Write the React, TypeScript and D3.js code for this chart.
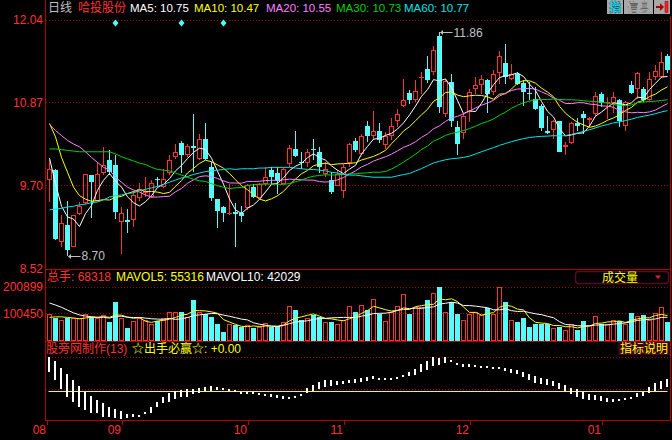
import * as d3 from 'd3'

// 日K: 104 sessions
const openPx = [
  9.77, 9.91, 8.89, 9.14, 8.83, 9.29, 9.44, 9.84, 9.48, 9.87,
  10.06, 9.99, 9.18, 9.21, 9.21, 9.52, 9.59, 9.53, 9.79, 9.67,
  9.87, 10.09, 10.29, 10.12, 10.25, 10.07, 10.35, 9.95, 9.5, 9.39,
  9.29, 9.32, 9.31, 9.38, 9.67, 9.52, 9.72, 9.91, 9.87, 9.72,
  10.0, 10.21, 10.02, 10.01, 10.21, 10.16, 9.86, 9.77, 9.69, 9.62,
  10.01, 10.32, 10.14, 10.53, 10.4, 10.47, 10.27, 10.39, 10.61, 10.82,
  11.0, 10.9, 11.22, 11.34, 11.3, 11.8, 10.7, 11.16, 10.52, 10.43,
  10.73, 11.06, 11.12, 11.18, 11.01, 11.28, 11.42, 11.2, 11.27, 11.14,
  11.0, 10.91, 10.82, 10.47, 10.48, 10.6, 10.24, 10.29, 10.57, 10.71,
  10.62, 10.7, 10.98, 10.86, 10.86, 10.9, 10.53, 11.12, 11.06, 11.06,
  10.9, 11.23, 11.23, 11.53,
]
const highPx = [
  10.05, 9.93, 9.28, 9.48, 9.27, 9.46, 9.86, 9.84, 10.02, 10.24,
  10.19, 10.12, 9.39, 9.36, 9.6, 9.73, 9.81, 9.77, 9.82, 9.93,
  10.12, 10.28, 10.32, 10.28, 10.7, 10.42, 10.58, 10.02, 9.5, 9.41,
  9.71, 9.45, 9.4, 9.72, 9.72, 9.73, 9.95, 9.95, 9.95, 9.95,
  10.27, 10.47, 10.17, 10.21, 10.35, 10.24, 10.02, 9.88, 9.91, 10.0,
  10.29, 10.37, 10.42, 10.6, 10.75, 10.57, 10.45, 10.65, 10.78, 11.2,
  11.04, 11.18, 11.3, 11.52, 11.66, 11.86, 11.2, 11.27, 10.61, 10.71,
  11.06, 11.23, 11.25, 11.2, 11.32, 11.59, 11.69, 11.41, 11.3, 11.18,
  11.15, 11.09, 10.85, 10.68, 10.62, 10.61, 10.31, 10.59, 10.65, 10.75,
  10.66, 11.01, 11.02, 10.95, 11.01, 10.92, 10.89, 11.17, 11.3, 11.08,
  11.3, 11.39, 11.58, 11.55,
]
const lowPx = [
  9.46, 8.92, 8.82, 8.7, 8.82, 9.27, 9.43, 9.24, 9.46, 9.84,
  9.84, 9.22, 8.72, 9.02, 9.1, 9.48, 9.53, 9.51, 9.68, 9.66,
  9.84, 10.07, 9.87, 10.1, 9.88, 10.06, 10.05, 9.48, 9.09, 9.18,
  9.27, 8.82, 9.18, 9.35, 9.51, 9.51, 9.69, 9.72, 9.58, 9.71,
  9.95, 10.09, 9.93, 9.95, 10.05, 9.87, 9.81, 9.58, 9.68, 9.52,
  9.95, 10.17, 10.13, 10.31, 10.34, 10.29, 10.21, 10.33, 10.52, 10.81,
  10.84, 10.87, 10.98, 11.14, 11.26, 10.72, 10.66, 10.52, 10.13, 10.35,
  10.59, 10.99, 10.98, 10.72, 10.97, 11.13, 11.13, 11.19, 11.11, 10.82,
  10.9, 10.76, 10.47, 10.42, 10.35, 10.17, 10.13, 10.28, 10.47, 10.42,
  10.52, 10.68, 10.8, 10.64, 10.72, 10.52, 10.47, 10.98, 10.92, 10.87,
  10.89, 11.18, 11.22, 11.28,
]
const closePx = [
  9.93, 8.94, 9.17, 8.78, 9.27, 9.41, 9.85, 9.74, 9.86, 9.98,
  9.88, 9.32, 9.31, 9.18, 9.56, 9.65, 9.62, 9.73, 9.77, 9.78,
  10.05, 10.17, 10.12, 10.25, 10.22, 10.35, 10.07, 9.51, 9.33, 9.3,
  9.31, 9.29, 9.26, 9.7, 9.53, 9.71, 9.81, 9.81, 9.76, 9.92,
  10.23, 10.11, 10.01, 10.16, 10.2, 9.96, 9.93, 9.6, 9.86, 9.96,
  10.28, 10.19, 10.4, 10.4, 10.47, 10.34, 10.4, 10.54, 10.71, 10.9,
  10.9, 11.03, 11.23, 11.18, 11.61, 10.81, 11.17, 10.61, 10.28, 10.67,
  11.02, 11.11, 11.2, 10.99, 11.27, 11.53, 11.23, 11.27, 11.13, 11.01,
  10.99, 10.78, 10.5, 10.43, 10.61, 10.17, 10.26, 10.57, 10.54, 10.65,
  10.65, 10.96, 10.86, 10.88, 10.95, 10.61, 10.87, 11.0, 11.28, 10.9,
  11.2, 11.31, 11.44, 11.32,
]
const volume = [
  98000, 82000, 75000, 82000, 82000, 82000, 98000, 88000, 82000, 94000,
  69000, 144000, 82000, 45000, 73000, 82000, 75000, 61000, 73000, 82000,
  106000, 106000, 106000, 88000, 150000, 106000, 100000, 88000, 63000, 32000,
  61000, 57000, 51000, 57000, 45000, 51000, 65000, 51000, 53000, 69000,
  128000, 115000, 75000, 82000, 94000, 88000, 69000, 69000, 62000, 78000,
  128000, 106000, 131000, 115000, 156000, 98000, 73000, 106000, 128000, 172000,
  98000, 125000, 125000, 150000, 175000, 200899, 106000, 144000, 98000, 75000,
  100000, 106000, 94000, 122000, 98000, 198000, 144000, 75000, 69000, 82000,
  51000, 61000, 61000, 61000, 45000, 51000, 38000, 61000, 38000, 73000,
  57000, 90000, 63000, 63000, 75000, 73000, 61000, 103000, 90000, 94000,
  75000, 103000, 123000, 68318,
]

// MA values for sessions before the window has enough history
const ma5Head = [10.08, 9.72, 9.4, 9.25]
const ma10Head = [10.57, 10.38, 10.09, 9.88, 9.67, 9.55, 9.5, 9.47, 9.48]
const ma20Head = [10.56, 10.47, 10.4, 10.33, 10.28, 10.24, 10.17, 10.09, 10.02, 9.95, 9.91, 9.81, 9.74, 9.67, 9.63, 9.6, 9.56, 9.53, 9.53]
const ma30Head = [
  10.21, 10.21, 10.2, 10.19, 10.18, 10.17, 10.17, 10.17, 10.17, 10.17,
  10.17, 10.14, 10.1, 10.07, 10.04, 10.01, 9.99, 9.95, 9.92, 9.91,
  9.9, 9.87, 9.84, 9.81, 9.78, 9.76, 9.75, 9.72, 9.69,
]
const ma60Head = [
  9.35, 9.36, 9.37, 9.39, 9.4, 9.42, 9.43, 9.45, 9.46, 9.49,
  9.53, 9.55, 9.56, 9.58, 9.59, 9.62, 9.64, 9.66, 9.68, 9.71,
  9.74, 9.77, 9.8, 9.82, 9.85, 9.87, 9.89, 9.9, 9.91, 9.92,
  9.93, 9.92, 9.93, 9.93, 9.93, 9.94, 9.94, 9.95, 9.95, 9.95,
  9.95, 9.94, 9.93, 9.92, 9.92, 9.91, 9.9, 9.88, 9.87, 9.85,
  9.84, 9.84, 9.83, 9.82, 9.81, 9.81, 9.81, 9.81, 9.83,
]
const mavol5Head = [86000, 88000, 88000, 86000]
const mavol10Head = [139500, 132000, 123500, 113000, 103000, 95000, 91000, 88500, 86000]

// 出手必赢 sticks: upper / lower end of each bar
const stickTop = [
  1.0, 0.89, 0.67, 0.5, 0.33, 0.15, -0.02, -0.15, -0.27, -0.37,
  -0.46, -0.54, -0.59, -0.69, -0.69, -0.71, -0.63, -0.46, -0.32, -0.17,
  -0.07, 0.01, 0.03, 0.05, 0.05, 0.08, 0.11, 0.15, 0.11, 0.08,
  0.05, 0.03, -0.02, -0.02, -0.04, -0.07, -0.09, -0.09, -0.12, -0.15,
  -0.17, -0.15, -0.09, 0.08, 0.18, 0.28, 0.33, 0.33, 0.31, 0.31,
  0.33, 0.36, 0.38, 0.41, 0.45, 0.38, 0.38, 0.38, 0.41, 0.47,
  0.57, 0.65, 0.8, 0.9, 1.0, 0.97, 1.0, 0.92, 0.84, 0.8,
  0.8, 0.77, 0.74, 0.74, 0.72, 0.72, 0.67, 0.64, 0.62, 0.57,
  0.5, 0.45, 0.38, 0.35, 0.31, 0.25, 0.18, 0.08, 0.05, -0.02,
  -0.09, -0.12, -0.15, -0.2, -0.24, -0.24, -0.22, -0.17, -0.05, -0.02,
  0.11, 0.23, 0.31, 0.36,
]
const stickBottom = [
  0.57, 0.33, 0.05, -0.17, -0.32, -0.46, -0.56, -0.66, -0.66, -0.76,
  -0.78, -0.81, -0.84, -0.81, -0.78, -0.78, -0.68, -0.64, -0.48, -0.37,
  -0.34, -0.25, -0.17, -0.17, -0.1, -0.07, 0.01, 0.01, 0.03, 0.03,
  0.01, 0.0, -0.09, -0.09, -0.09, -0.12, -0.15, -0.17, -0.2, -0.23,
  -0.22, -0.19, -0.14, -0.07, 0.01, 0.05, 0.11, 0.15, 0.18, 0.21,
  0.23, 0.25, 0.28, 0.31, 0.35, 0.36, 0.36, 0.36, 0.38, 0.41,
  0.45, 0.47, 0.57, 0.62, 0.74, 0.77, 0.82, 0.87, 0.82, 0.72,
  0.72, 0.72, 0.72, 0.7, 0.67, 0.65, 0.6, 0.54, 0.5, 0.41,
  0.33, 0.25, 0.21, 0.18, 0.15, 0.05, 0.01, -0.09, -0.17, -0.25,
  -0.27, -0.27, -0.29, -0.32, -0.32, -0.29, -0.27, -0.22, -0.19, -0.15,
  -0.07, 0.01, 0.05, 0.11,
]

const priceTicks = [12.04, 10.87, 9.7, 8.52]
const volTicks = [200899, 100450]
const monthLabels = ['08', '09', '10', '11', '12', '01']
const monthStart = [-0.5, 12, 33, 49, 70, 92]
const signalDays = [11, 22, 29]
const maLegend = ['MA5: 10.75', 'MA10: 10.47', 'MA20: 10.55', 'MA30: 10.73', 'MA60: 10.77']
const maLegendX = [130, 194, 266, 336, 404]

const RED = '#ff3232'
const CYAN = '#54fcfc'
const GRID = '#a00000'
const AXIS = '#b40000'
const MA_COLORS = ['#ffffff', '#ffff00', '#ff80ff', '#00d200', '#00e6e6']
const FONT = "'Liberation Sans', Arial, 'Noto Sans CJK SC', sans-serif"

function rolling(vals: number[], n: number, head: number[]) {
  return vals.map((_, i) => (i < n - 1 ? head[i] : (d3.mean(vals.slice(i - n + 1, i + 1)) as number)))
}

export default function App() {
  const idx = d3.range(closePx.length)
  const x = d3.scaleLinear().domain([0, 103]).range([49.5, 667.5])
  const yP = d3.scaleLinear().domain([8.52, 12.04]).range([268.5, 19.5])
  const yV = d3.scaleLinear().domain([0, 200899]).range([340.5, 286.5])
  const yI = d3.scaleLinear().domain([0, 1]).range([391, 357.3])

  const maSeries = [
    rolling(closePx, 5, ma5Head),
    rolling(closePx, 10, ma10Head),
    rolling(closePx, 20, ma20Head),
    rolling(closePx, 30, ma30Head),
    rolling(closePx, 60, ma60Head),
  ]
  const volSeries = [
    { vals: rolling(volume, 5, mavol5Head), color: '#ffff00' },
    { vals: rolling(volume, 10, mavol10Head), color: '#ffffff' },
  ]
  const priceLine = (vals: number[]) => d3.line<number>().x((_, i) => x(i)).y((v) => yP(v))(vals) || ''
  const volLine = (vals: number[]) => d3.line<number>().x((_, i) => x(i)).y((v) => yV(v))(vals) || ''

  const lowI = d3.minIndex(lowPx)
  const highI = d3.maxIndex(highPx)

  return (
    <svg width={672} height={440} style={{ position: 'absolute', left: 0, top: 0 }} fontFamily={FONT} fontSize={12}>
      <rect width={672} height={440} fill="#000" />
      <defs>
        <clipPath id="main"><rect x={46} y={17} width={624} height={252} /></clipPath>
        <clipPath id="vol"><rect x={46} y={284} width={624} height={57} /></clipPath>
      </defs>

      {/* header */}
      <text x={48} y={12} fill="#c0c0c0">日线</text>
      <text x={78} y={12} fill={RED}>哈投股份</text>
      {maLegend.map((t, k) => (
        <text key={t} x={maLegendX[k]} y={12} fill={MA_COLORS[k]} fontSize={11.5}>{t}</text>
      ))}

      {/* top-right buttons */}
      <rect x={607} y={0} width={16} height={14} fill="#a8a8a8" />
      <text x={615} y={12} fill="#00ffff" textAnchor="middle" fontWeight="bold" stroke="#003a6e" strokeWidth={0.4}>指</text>
      <rect x={624} y={0} width={29} height={14} fill="#a8a8a8" />
      <text x={638.5} y={12} fill="#ffffff" textAnchor="middle" stroke="#404040" strokeWidth={0.3}>信息</text>
      <rect x={654} y={0} width={16} height={14} fill="#a8a8a8" />
      <path d="M656,6 h4 v-3 l4,4 l-4,4 v-3 h-4 z" fill="#a00000" />
      <rect x={665} y={1.5} width={3} height={11} fill="#ff2020" stroke="#800000" strokeWidth={0.5} />

      {/* frame */}
      <line x1={45.5} x2={45.5} y1={0} y2={421} stroke={AXIS} />
      <line x1={670.5} x2={670.5} y1={16} y2={421} stroke={AXIS} />
      <line x1={45} x2={671} y1={269.5} y2={269.5} stroke={AXIS} />
      <line x1={45} x2={671} y1={341.5} y2={341.5} stroke={AXIS} />
      <line x1={45} x2={671} y1={420.5} y2={420.5} stroke={AXIS} />

      {/* price grid */}
      {priceTicks.map((p, k) => (
        <g key={p}>
          {k < 3 && <line x1={46} x2={670} y1={Math.round(yP(p)) + 0.5} y2={Math.round(yP(p)) + 0.5} stroke={GRID} strokeDasharray="1,2" />}
          <text x={43} y={yP(p) + 4.5} fill={RED} textAnchor="end">{p.toFixed(2)}</text>
        </g>
      ))}

      {/* signal diamonds */}
      {signalDays.map((i) => (
        <path key={i} d={`M${x(i)},19.5 l3,3.5 l-3,3.5 l-3,-3.5 z`} fill={CYAN} />
      ))}

      {/* candles */}
      <g clipPath="url(#main)" shapeRendering="crispEdges">
        {idx.map((i) => {
          const o = openPx[i]
          const c = closePx[i]
          const cx = x(i)
          const yH = Math.round(yP(highPx[i]))
          const yL = Math.round(yP(lowPx[i]))
          const yT = Math.round(yP(Math.max(o, c)))
          const yB = Math.round(yP(Math.min(o, c)))
          if (c >= o) {
            if (yB - yT < 2) {
              return (
                <g key={i} stroke={RED}>
                  <line x1={cx} x2={cx} y1={yH} y2={yL} />
                  <line x1={cx - 2.5} x2={cx + 2.5} y1={yT + 0.5} y2={yT + 0.5} />
                </g>
              )
            }
            return (
              <g key={i} stroke={RED} fill="none">
                <line x1={cx} x2={cx} y1={yH} y2={yT} />
                <line x1={cx} x2={cx} y1={yB} y2={yL} />
                <rect x={cx - 2} y={yT + 0.5} width={4} height={yB - yT - 1} />
              </g>
            )
          }
          return (
            <g key={i}>
              <line x1={cx} x2={cx} y1={yH} y2={yL} stroke={CYAN} />
              <rect x={cx - 2.5} y={yT} width={5} height={Math.max(yB - yT, 1)} fill={CYAN} />
            </g>
          )
        })}
      </g>

      {/* moving averages */}
      <g clipPath="url(#main)" fill="none">
        {maSeries.map((vals, k) => (
          <path key={k} d={priceLine(vals)} stroke={MA_COLORS[k]} strokeWidth={1} />
        ))}
      </g>

      {/* low / high markers */}
      <g fill="#c0c0c0" stroke="#c0c0c0">
        <line x1={x(lowI) + 1} x2={x(lowI) + 13} y1={Math.round(yP(lowPx[lowI])) + 0.5} y2={Math.round(yP(lowPx[lowI])) + 0.5} />
        <path d={`M${x(lowI) + 0.5},${Math.round(yP(lowPx[lowI])) + 0.5} l3,-2.5 v5 z`} stroke="none" />
        <text x={x(lowI) + 14} y={yP(lowPx[lowI]) + 4.5} stroke="none">{lowPx[lowI].toFixed(2)}</text>
        <line x1={x(highI) + 1} x2={x(highI) + 13} y1={Math.round(yP(highPx[highI])) + 0.5} y2={Math.round(yP(highPx[highI])) + 0.5} />
        <path d={`M${x(highI) + 0.5},${Math.round(yP(highPx[highI])) + 0.5} l3,-2.5 v5 z`} stroke="none" />
        <text x={x(highI) + 14} y={yP(highPx[highI]) + 4.5} stroke="none">{highPx[highI].toFixed(2)}</text>
      </g>

      {/* volume panel */}
      <text x={47} y={281} fill={RED}>总手: 68318</text>
      <text x={116} y={281} fill="#ffff00">MAVOL5: 55316</text>
      <text x={206} y={281} fill="#ffffff">MAVOL10: 42029</text>
      <rect x={575.5} y={271.5} width={93} height={12} rx={3} fill="#000" stroke="#5a0a28" strokeWidth={1.5} />
      <text x={620} y={282} fill="#ffff00" textAnchor="middle">成交量</text>
      <path d="M655,275.5 h6 l-3,3.5 z" fill="#ff1050" />
      {volTicks.map((v) => (
        <g key={v}>
          <line x1={46} x2={670} y1={Math.round(yV(v)) + 0.5} y2={Math.round(yV(v)) + 0.5} stroke={GRID} strokeDasharray="1,2" />
          <text x={43} y={yV(v) + 4.5} fill={RED} textAnchor="end">{v}</text>
        </g>
      ))}
      <g clipPath="url(#vol)" shapeRendering="crispEdges">
        {idx.map((i) => {
          const cx = x(i)
          const yTop = Math.round(yV(volume[i]))
          if (closePx[i] >= openPx[i]) {
            return <rect key={i} x={cx - 2} y={yTop + 0.5} width={4} height={340 - yTop - 0.5} fill="none" stroke={RED} />
          }
          return <rect key={i} x={cx - 2.5} y={yTop} width={5} height={341 - yTop} fill={CYAN} />
        })}
      </g>
      <g clipPath="url(#vol)" fill="none">
        {volSeries.map((s, k) => (
          <path key={k} d={volLine(s.vals)} stroke={s.color} strokeWidth={1} />
        ))}
      </g>

      {/* indicator panel */}
      <text x={46} y={353} fill={RED}>股旁网制作(13)</text>
      <text x={132} y={353} fill="#ffff00">☆出手必赢☆: +0.00</text>
      <rect x={618} y={342} width={52} height={13} fill="#3c0020" />
      <text x={644} y={353} fill="#ffff00" textAnchor="middle">指标说明</text>
      <line x1={46} x2={670} y1={357.5} y2={357.5} stroke={GRID} strokeDasharray="1,2" />
      <line x1={46} x2={670} y1={389.5} y2={389.5} stroke={GRID} strokeDasharray="1,2" />
      <line x1={x(0) - 1} x2={x(103)} y1={391.5} y2={391.5} stroke="#ffff00" />
      <g shapeRendering="crispEdges" fill="#ffffff">
        {idx.map((i) => {
          const t = Math.round(yI(stickTop[i]))
          const b = Math.round(yI(stickBottom[i]))
          return <rect key={i} x={x(i) - 1.5} y={t} width={2} height={Math.max(b - t, 2)} />
        })}
      </g>

      {/* date axis */}
      {monthStart.map((i, k) => (
        <g key={k}>
          <line x1={Math.round(x(i)) + 0.5} x2={Math.round(x(i)) + 0.5} y1={421} y2={425} stroke={AXIS} />
          <text x={Math.round(x(i)) - 1} y={434} fill={RED} textAnchor="end">{monthLabels[k]}</text>
        </g>
      ))}
    </svg>
  )
}
